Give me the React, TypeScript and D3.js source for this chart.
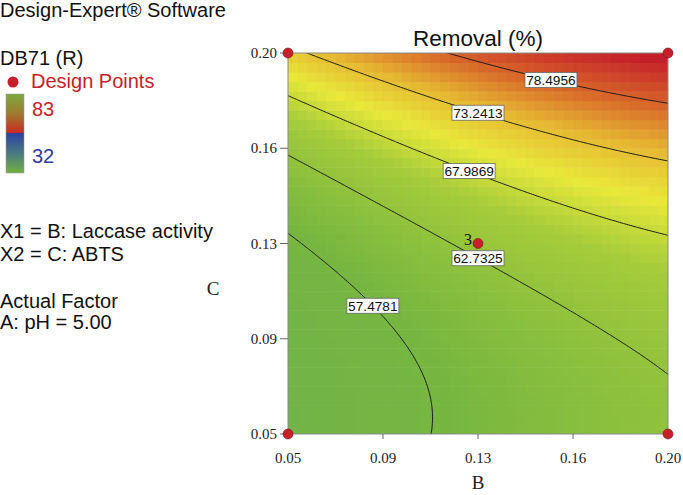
import React from 'react'
import * as d3 from 'd3'

const W = 683
const H = 495

// axes (actual units)
const bDomain = [0.05, 0.2]
const cDomain = [0.05, 0.2]
const tickValues = [0.05, 0.0875, 0.125, 0.1625, 0.2]
const tickLabels = ['0.05', '0.09', '0.13', '0.16', '0.20']

// quadratic model, coded units: b0, B, C, BC, B^2, C^2
const coefs = [63.5, 5.29, 10.35, 0.45, -1.28, 5.6]

const contourLevels = [57.4781, 62.7325, 67.9869, 73.2413, 78.4956]
const labelAtB = [0.0835, 0.125, 0.1215, 0.125, 0.1538]

const designB = [0.05, 0.2, 0.05, 0.2, 0.125]
const designC = [0.05, 0.05, 0.2, 0.2, 0.125]
const designReps = [1, 1, 1, 1, 3]

const colorStops = [52, 58, 66, 70, 74, 78, 83]
const colorRange = ['#72b34a', '#76b640', '#a6cc3a', '#e8e83a', '#e6b832', '#d8682a', '#c41f2a']

const legendLines = ['X1 = B: Laccase activity', 'X2 = C: ABTS']
const factorLines = ['Actual Factor', 'A: pH = 5.00']

const margin = { left: 288, right: 15, top: 53, bottom: 61 }
const x = d3.scaleLinear().domain(bDomain).range([margin.left, W - margin.right])
const y = d3.scaleLinear().domain(cDomain).range([H - margin.bottom, margin.top])
const color = d3.scaleLinear<string>().domain(colorStops).range(colorRange).clamp(true)

const toCoded = (v: number) => (v - 0.125) / 0.075
const fromCoded = (v: number) => 0.125 + v * 0.075
const predictCoded = (x1: number, x2: number) =>
  coefs[0] + coefs[1] * x1 + coefs[2] * x2 + coefs[3] * x1 * x2 + coefs[4] * x1 * x1 + coefs[5] * x2 * x2

// find C on a contour for a given B
const contourC = (b: number, level: number) => {
  const x1 = toCoded(b)
  const a = coefs[5]
  const bq = coefs[2] + coefs[3] * x1
  const cq = coefs[0] + coefs[1] * x1 + coefs[4] * x1 * x1 - level
  const s = Math.sqrt(Math.max(0, bq * bq - 4 * a * cq))
  const roots = [(-bq + s) / (2 * a), (-bq - s) / (2 * a)]
  const r = roots.find((v) => v >= -1 && v <= 1)
  return fromCoded(r ?? roots[0])
}

// heat map cells
const nCells = 40
const cells: { x: number; y: number; w: number; h: number; fill: string }[] = []
for (let i = 0; i < nCells; i++) {
  for (let j = 0; j < nCells; j++) {
    const x1 = -1 + (2 * (i + 0.5)) / nCells
    const x2 = -1 + (2 * (j + 0.5)) / nCells
    const b0 = fromCoded(-1 + (2 * i) / nCells)
    const b1 = fromCoded(-1 + (2 * (i + 1)) / nCells)
    const c0 = fromCoded(-1 + (2 * j) / nCells)
    const c1 = fromCoded(-1 + (2 * (j + 1)) / nCells)
    cells.push({
      x: x(b0),
      y: y(c1),
      w: x(b1) - x(b0) + 0.5,
      h: y(c0) - y(c1) + 0.5,
      fill: color(predictCoded(x1, x2))
    })
  }
}

// contour lines on a grid slightly larger than the plot, clipped later
const n = 221
const ext = 1.05
const step = (2 * ext) / (n - 1)
const grid = new Array(n * n)
for (let j = 0; j < n; j++) {
  for (let i = 0; i < n; i++) {
    grid[j * n + i] = predictCoded(-ext + i * step, ext - j * step)
  }
}
const contours = d3.contours().size([n, n]).thresholds(contourLevels)(grid)
const contourPath = d3.geoPath(
  d3.geoTransform({
    point(gx: number, gy: number) {
      const x1 = -ext + (gx - 0.5) * step
      const x2 = ext - (gy - 0.5) * step
      this.stream.point(x(fromCoded(x1)), y(fromCoded(x2)))
    }
  })
)

const sans = 'Arial, "Liberation Sans", Helvetica, sans-serif'
const serif = '"Times New Roman", "Liberation Serif", Times, serif'

export default function App() {
  const [x0, x1] = x.range()
  const [y0, y1] = y.range()
  return (
    <svg width={W} height={H} style={{ position: 'absolute', left: 0, top: 0, background: '#fff' }}>
      <defs>
        <clipPath id="plotClip">
          <rect x={x0} y={y1} width={x1 - x0} height={y0 - y1} />
        </clipPath>
        <linearGradient id="barGrad" x1="0" y1="0" x2="0" y2="1">
          <stop offset="0%" stopColor="#7aaa40" />
          <stop offset="25%" stopColor="#a07a30" />
          <stop offset="49%" stopColor="#cc2a22" />
          <stop offset="50%" stopColor="#2c42a2" />
          <stop offset="75%" stopColor="#4a7a80" />
          <stop offset="100%" stopColor="#72b040" />
        </linearGradient>
      </defs>

      {/* left legend */}
      <text x={0} y={17} fontFamily={sans} fontSize={20} fill="#111">Design-Expert® Software</text>
      <text x={0} y={65} fontFamily={sans} fontSize={20} fill="#111">DB71 (R)</text>
      <circle cx={13} cy={82} r={5.5} fill="#c8202a" />
      <text x={31} y={88} fontFamily={sans} fontSize={20} fill="#c8202a">Design Points</text>
      <rect x={6} y={94} width={18} height={79} fill="url(#barGrad)" stroke="#999" strokeWidth={0.5} />
      <text x={32} y={116} fontFamily={sans} fontSize={20} fill="#c8202a">83</text>
      <text x={32} y={163} fontFamily={sans} fontSize={20} fill="#2e3a9c">32</text>
      {legendLines.map((t, i) => (
        <text key={t} x={0} y={238 + i * 23} fontFamily={sans} fontSize={20} fill="#111">{t}</text>
      ))}
      {factorLines.map((t, i) => (
        <text key={t} x={0} y={308 + i * 21} fontFamily={sans} fontSize={20} fill="#111">{t}</text>
      ))}

      {/* title */}
      <text x={(x0 + x1) / 2} y={46} textAnchor="middle" fontFamily={sans} fontSize={22.5} fill="#111">
        Removal (%)
      </text>

      {/* surface */}
      <g clipPath="url(#plotClip)">
        {cells.map((c, i) => (
          <rect key={i} x={c.x} y={c.y} width={c.w} height={c.h} fill={c.fill} />
        ))}
        {contours.map((c, i) => (
          <path key={i} d={contourPath(c as any) || ''} fill="none" stroke="#1a1a1a" strokeWidth={1} />
        ))}
      </g>
      <rect x={x0} y={y1} width={x1 - x0} height={y0 - y1} fill="none" stroke="#8a8a8a" strokeWidth={1} />

      {/* contour labels */}
      {contourLevels.map((lv, i) => {
        const px = x(labelAtB[i])
        const py = y(contourC(labelAtB[i], lv))
        const w = 52
        const h = 15
        return (
          <g key={lv}>
            <rect x={px - w / 2} y={py - h / 2} width={w} height={h} fill="#fff" stroke="#666" strokeWidth={0.8} />
            <text x={px} y={py + 5} textAnchor="middle" fontFamily={sans} fontSize={13.7} fill="#111">
              {lv.toFixed(4)}
            </text>
          </g>
        )
      })}

      {/* axes */}
      {tickValues.map((t, i) => (
        <g key={'x' + i}>
          <line x1={x(t)} x2={x(t)} y1={y0} y2={y0 + 5} stroke="#666" />
          <text x={x(t)} y={y0 + 29} textAnchor="middle" fontFamily={serif} fontSize={15} fill="#222">
            {tickLabels[i]}
          </text>
        </g>
      ))}
      {tickValues.map((t, i) => (
        <g key={'y' + i}>
          <line x1={x0 - 8} x2={x0} y1={y(t)} y2={y(t)} stroke="#666" />
          <text x={x0 - 11} y={y(t) + 5} textAnchor="end" fontFamily={serif} fontSize={15} fill="#222">
            {tickLabels[i]}
          </text>
        </g>
      ))}
      <text x={(x0 + x1) / 2} y={489} textAnchor="middle" fontFamily={serif} fontSize={19} fill="#222">B</text>
      <text x={213} y={295} textAnchor="middle" fontFamily={serif} fontSize={19} fill="#222">C</text>

      {/* design points */}
      {designB.map((b, i) => (
        <g key={'d' + i}>
          <circle cx={x(b)} cy={y(designC[i])} r={5} fill="#c8202a" stroke="#7a1016" strokeWidth={0.6} />
          {designReps[i] > 1 && (
            <text x={x(b) - 6} y={y(designC[i]) + 1} textAnchor="end" fontFamily={serif} fontSize={16} fill="#111">
              {designReps[i]}
            </text>
          )}
        </g>
      ))}
    </svg>
  )
}
